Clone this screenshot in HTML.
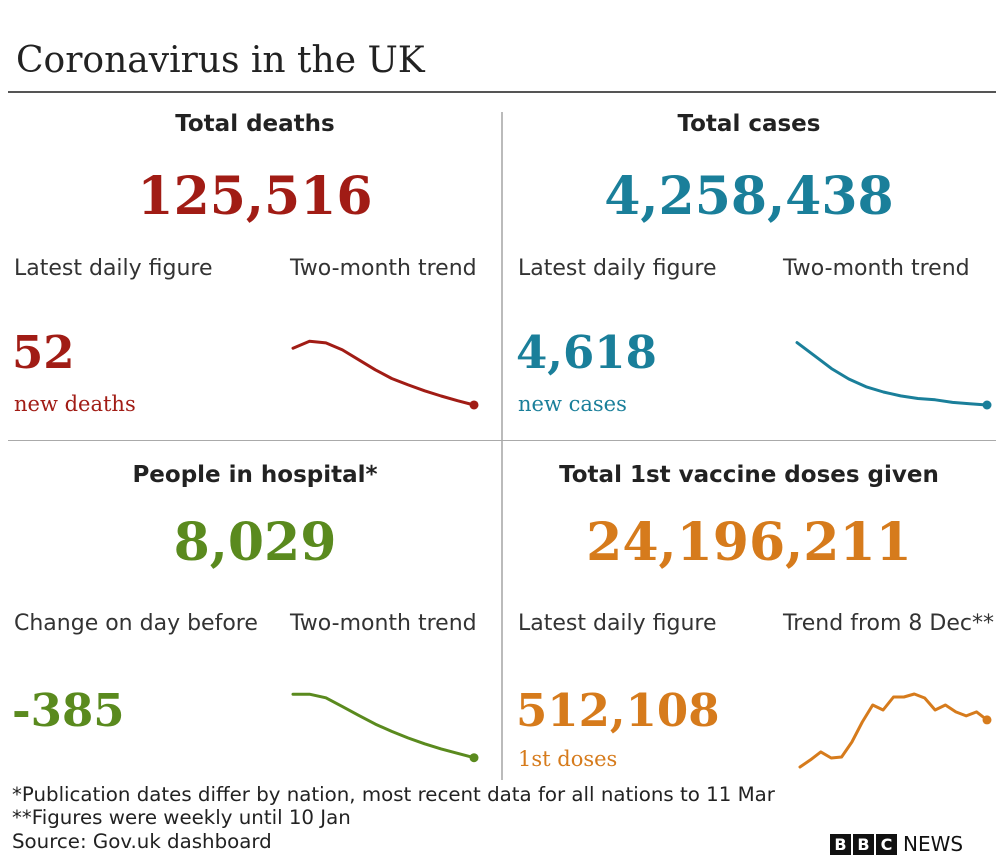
<!DOCTYPE html>
<html><head><meta charset="utf-8"><style>
body{margin:0;width:1000px;height:853px;background:#fff;position:relative;overflow:hidden;font-family:"DejaVu Sans","Liberation Sans",sans-serif;color:#222}
.a{position:absolute;white-space:nowrap}
.serif{font-family:"DejaVu Serif","Liberation Serif",serif}
.h{font-weight:bold;font-size:23px;text-align:center;width:490px}
.big{font-size:52px;text-align:center;width:490px;font-family:"DejaVu Serif","Liberation Serif",serif;font-weight:bold}
.lbl{font-size:22px;color:#333}
.num{font-size:45px;font-family:"DejaVu Serif","Liberation Serif",serif;font-weight:bold}
.sub{font-size:21px;font-family:"DejaVu Serif","Liberation Serif",serif}
.foot{font-size:19.8px;color:#222}
</style></head><body>
<div class="a serif" style="left:16px;top:40px;font-size:36px">Coronavirus in the UK</div>
<div class="a" style="left:8px;top:91px;width:988px;height:2px;background:#555"></div>
<div class="a" style="left:501px;top:112px;width:2px;height:668px;background:#bbb"></div>
<div class="a" style="left:8px;top:440px;width:988px;height:1px;background:#aaa"></div>

<div class="a h" style="left:10px;top:111px">Total deaths</div>
<div class="a big" style="left:10px;top:166px;color:#a11c15">125,516</div>
<div class="a lbl" style="left:14px;top:256px">Latest daily figure</div>
<div class="a lbl" style="left:290px;top:256px">Two-month trend</div>
<div class="a num" style="left:12px;top:326px;color:#a11c15">52</div>
<div class="a sub" style="left:14px;top:392px;color:#a11c15">new deaths</div>

<div class="a h" style="left:504px;top:111px">Total cases</div>
<div class="a big" style="left:504px;top:166px;color:#1a7f9a">4,258,438</div>
<div class="a lbl" style="left:518px;top:256px">Latest daily figure</div>
<div class="a lbl" style="left:783px;top:256px">Two-month trend</div>
<div class="a num" style="left:516px;top:326px;color:#1a7f9a">4,618</div>
<div class="a sub" style="left:518px;top:392px;color:#1a7f9a">new cases</div>

<div class="a h" style="left:10px;top:462px">People in hospital*</div>
<div class="a big" style="left:10px;top:512px;color:#5a8a1e">8,029</div>
<div class="a lbl" style="left:14px;top:611px">Change on day before</div>
<div class="a lbl" style="left:290px;top:611px">Two-month trend</div>
<div class="a num" style="left:12px;top:684px;color:#5a8a1e">-385</div>

<div class="a h" style="left:504px;top:462px">Total 1st vaccine doses given</div>
<div class="a big" style="left:504px;top:512px;color:#d67b1c">24,196,211</div>
<div class="a lbl" style="left:518px;top:611px">Latest daily figure</div>
<div class="a lbl" style="left:783px;top:611px">Trend from 8 Dec**</div>
<div class="a num" style="left:516px;top:684px;color:#d67b1c">512,108</div>
<div class="a sub" style="left:518px;top:747px;color:#d67b1c">1st doses</div>

<div class="a foot" style="left:12px;top:783px">*Publication dates differ by nation, most recent data for all nations to 11 Mar</div>
<div class="a foot" style="left:12px;top:806px">**Figures were weekly until 10 Jan</div>
<div class="a foot" style="left:12px;top:830px">Source: Gov.uk dashboard</div>
<div class="a" style="left:830px;top:832px;font-size:20px;font-weight:bold;display:flex;gap:2px;align-items:center">
<span style="background:#111;color:#fff;width:21px;height:21px;display:inline-block;text-align:center;line-height:21px;font-size:16px">B</span><span style="background:#111;color:#fff;width:21px;height:21px;display:inline-block;text-align:center;line-height:21px;font-size:16px">B</span><span style="background:#111;color:#fff;width:21px;height:21px;display:inline-block;text-align:center;line-height:21px;font-size:16px">C</span><span style="margin-left:4px;font-weight:normal;color:#111">NEWS</span></div>

<svg id="spark" class="a" style="left:0;top:0" width="1000" height="853"></svg>
<script>
const deathsValues=[1060,1180,1150,1030,860,690,540,430,330,240,160,86];
const casesValues=[58,48,38,30,24,20,17,15,14,12,11,10];
const hospitalValues=[97,97,92,80,68,56,46,37,29,22,16,10];
const vaccineValues=[19,63,113,75,81,175,300,406,375,456,456,475,450,375,406,363,338,363,313];
const NS="http://www.w3.org/2000/svg";
const svg=document.getElementById('spark');
function draw(vals,dom,x0,x1,y0,y1,color,name){
  const sx=i=>x0+(x1-x0)*i/(vals.length-1);
  const sy=v=>y0+(y1-y0)*(v-dom[0])/(dom[1]-dom[0]);
  const d=vals.map((v,i)=>(i?'L':'M')+sx(i).toFixed(1)+','+sy(v).toFixed(1)).join(' ');
  const p=document.createElementNS(NS,'path');
  p.setAttribute('d',d);p.setAttribute('fill','none');p.setAttribute('stroke',color);
  p.setAttribute('stroke-width','3');p.setAttribute('stroke-linejoin','round');p.setAttribute('stroke-linecap','round');
  
  
  svg.appendChild(p);
  const c=document.createElementNS(NS,'circle');
  c.setAttribute('cx',sx(vals.length-1));c.setAttribute('cy',sy(vals[vals.length-1]));c.setAttribute('r','4.5');c.setAttribute('fill',color);
  
  
  svg.appendChild(c);
}
draw(deathsValues,[0,1200],293,474,410,340,'#a11c15','deaths-trend');
draw(casesValues,[0,60],797,987,418,340,'#1a7f9a','cases-trend');
draw(hospitalValues,[0,100],293,474,765,692,'#5a8a1e','hospital-trend');
draw(vaccineValues,[0,500],800,987,770,690,'#d67b1c','vaccine-trend');
</script>
</body></html>
